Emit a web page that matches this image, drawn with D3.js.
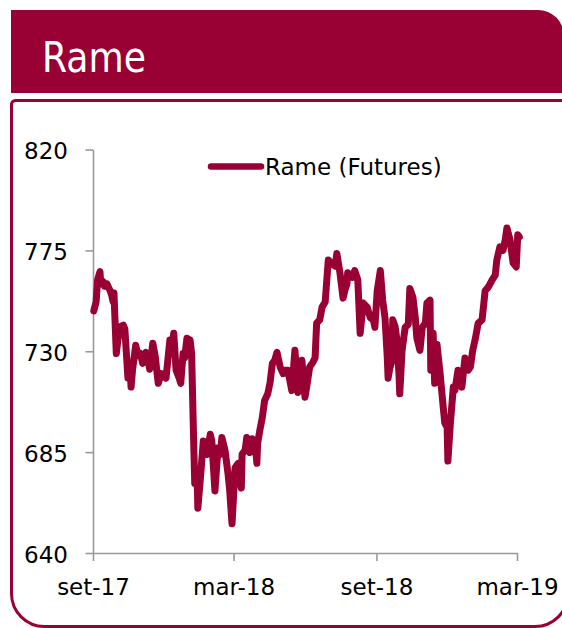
<!DOCTYPE html>
<html>
<head>
<meta charset="utf-8">
<script src="https://cdn.jsdelivr.net/npm/d3@7"></script>
<style>
  body { margin: 0; background: #fff; }
  #chart { width: 562px; height: 628px; }
  .axis path, .axis line { stroke: #999; stroke-width: 1.6; }
  .axis text { font-family: "DejaVu Sans", sans-serif; font-size: 23px; fill: #000; }
</style>
</head>
<body>
<div id="chart"></div>
<script>
// Rame (Futures) - daily-ish closes
var title = "Rame";
var seriesName = "Rame (Futures)";

var dates = [
  "2017-09-02","2017-09-05","2017-09-07","2017-09-10","2017-09-11","2017-09-14","2017-09-16","2017-09-19","2017-09-23","2017-09-25",
  "2017-09-27","2017-09-28","2017-10-01","2017-10-03","2017-10-06","2017-10-10","2017-10-12","2017-10-16","2017-10-19","2017-10-20",
  "2017-10-22","2017-10-26","2017-10-29","2017-11-01","2017-11-04","2017-11-08","2017-11-11","2017-11-13","2017-11-17","2017-11-20",
  "2017-11-24","2017-11-28","2017-12-01","2017-12-04","2017-12-09","2017-12-12","2017-12-14","2017-12-17","2017-12-21","2017-12-23",
  "2017-12-26","2017-12-28","2017-12-31","2018-01-04","2018-01-06","2018-01-08","2018-01-10","2018-01-13","2018-01-14","2018-01-17",
  "2018-01-21","2018-01-23","2018-01-26","2018-01-30","2018-02-01","2018-02-05","2018-02-09","2018-02-12","2018-02-14","2018-02-18",
  "2018-02-22","2018-02-24","2018-02-27","2018-03-03","2018-03-07","2018-03-11","2018-03-12","2018-03-16","2018-03-18","2018-03-22",
  "2018-03-25","2018-03-29","2018-03-31","2018-04-01","2018-04-04","2018-04-07","2018-04-10","2018-04-14","2018-04-17","2018-04-20",
  "2018-04-23","2018-04-26","2018-04-30","2018-05-04","2018-05-06","2018-05-10","2018-05-15","2018-05-19","2018-05-23","2018-05-26",
  "2018-05-28","2018-06-01","2018-06-04","2018-06-07","2018-06-11","2018-06-14","2018-06-16","2018-06-20","2018-06-23","2018-06-27",
  "2018-07-01","2018-07-03","2018-07-06","2018-07-10","2018-07-12","2018-07-16","2018-07-20","2018-07-23","2018-07-25","2018-07-26",
  "2018-07-29","2018-08-01","2018-08-04","2018-08-08","2018-08-11","2018-08-15","2018-08-20","2018-08-24","2018-08-28","2018-08-30",
  "2018-09-02","2018-09-06","2018-09-09","2018-09-12","2018-09-15","2018-09-16","2018-09-18","2018-09-21","2018-09-22","2018-09-25",
  "2018-09-27","2018-09-30","2018-10-01","2018-10-04","2018-10-08","2018-10-12","2018-10-14","2018-10-18","2018-10-21","2018-10-23",
  "2018-10-27","2018-10-30","2018-11-03","2018-11-05","2018-11-09","2018-11-10","2018-11-13","2018-11-15","2018-11-18","2018-11-22",
  "2018-11-26","2018-11-28","2018-12-01","2018-12-02","2018-12-05","2018-12-09","2018-12-11","2018-12-15","2018-12-18","2018-12-20",
  "2018-12-24","2018-12-28","2018-12-31","2019-01-03","2019-01-06","2019-01-10","2019-01-15","2019-01-19","2019-01-23","2019-01-28",
  "2019-02-01","2019-02-03","2019-02-07","2019-02-11","2019-02-14","2019-02-16","2019-02-20","2019-02-24","2019-02-28","2019-03-02",
  "2019-03-04"
];

var values = [
  748,752,762,765.5,760,761,759,760,757,755,
  752,756,729,735,741,741.6,740,718,720,714,
  722,732.7,728,729,724.6,729.5,726,722,733.6,728,
  715.7,720,719,718,735,733,738,721.5,718,715.7,
  729,727,735.8,735,729,699,671,675,660,672,
  690,686,684,693,690,667.7,687,684,691.5,685.7,
  675,668,653,678,680,669,684,686,691.5,684.8,
  691,689,680,689,695,700.4,708,711,716,724.6,
  726,729.5,723,720,721.5,721.5,712.5,730.4,711.6,716,
  726,709.5,716,723,725,727,742.5,744,749.7,752,
  770.7,770,769,768,773.6,765,753.7,758,760,765,
  764,763,766,761.8,738,751.5,749.7,745,744,740.7,
  757,766,752.8,745,727,718,722,726,744,741,
  736,720,711,730.4,740.7,742,758,754,745,736,
  730.4,740.7,742.5,751.5,752.8,721.5,738,715.7,733,720,
  705,698,696,681,697,714,712.5,721.5,718,714,
  727,721.5,723,730.4,735,742.5,744,757,758.6,761.8,
  764,770.7,776.6,775,780,785,779.7,769.4,767.6,782,
  781
];

var xTickDates = ["2017-09-01","2018-03-01","2018-09-01","2019-03-01"];
var xTickLabels = ["set-17","mar-18","set-18","mar-19"];
var yTicks = [640, 685, 730, 775, 820];

var red = "#990033";
var parseDate = d3.timeParse("%Y-%m-%d");

var data = dates.map(function(d, i) {
    return { date: parseDate(d), value: values[i] };
});

var width = 562;
var height = 628;
var svg = d3.select("#chart")
    .append("svg")
    .attr("width", width)
    .attr("height", height);

// Header box
var hRight = 564, hR = 26;
svg.append("path")
    .attr("d", "M11,10 H" + (hRight - hR) + " A" + hR + "," + hR + " 0 0 1 " + hRight + "," + (10 + hR) + " V93 H11 Z")
    .attr("fill", red);

svg.append("text")
    .attr("x", 42)
    .attr("y", 72)
    .attr("textLength", 104)
    .attr("lengthAdjust", "spacingAndGlyphs")
    .style("font-family", "'DejaVu Sans', sans-serif")
    .style("font-size", "43px")
    .attr("fill", "#fff")
    .text(title);

// Panel outline (right side runs off the page)
svg.append("path")
    .attr("d", "M575,100.5 H15.5 A4,4 0 0 0 11.5,104.5 V593.5 A33,33 0 0 0 44.5,626.5 H535 A33,33 0 0 0 568,593.5 V100.5")
    .attr("fill", "none")
    .attr("stroke", red)
    .attr("stroke-width", 3);

// Scales
var x = d3.scaleTime()
    .domain([parseDate("2017-09-01"), parseDate("2019-03-01")])
    .range([93, 517]);

var y = d3.scaleLinear()
    .domain([640, 820])
    .range([553, 149.5]);

// Axes
var yAxis = svg.append("g")
    .attr("class", "axis")
    .attr("transform", "translate(93,0)")
    .call(d3.axisLeft(y).tickValues(yTicks).tickSize(7.5).tickSizeOuter(0).tickPadding(17.5));
yAxis.selectAll("text").attr("dy", "0.4em");

svg.append("g")
    .attr("class", "axis")
    .attr("transform", "translate(0,553)")
    .call(d3.axisBottom(x)
        .tickValues(xTickDates.map(parseDate))
        .tickFormat(function(d, i) { return xTickLabels[i]; })
        .tickSize(8).tickSizeOuter(0).tickPadding(18));

// Series
var line = d3.line()
    .x(function(d) { return x(d.date); })
    .y(function(d) { return y(d.value); });

svg.append("path")
    .datum(data)
    .attr("d", line)
    .attr("fill", "none")
    .attr("stroke", red)
    .attr("stroke-width", 7)
    .attr("stroke-linejoin", "round")
    .attr("stroke-linecap", "round");

// Legend
var legend = svg.append("g").attr("id", "legend");
legend.append("line")
    .attr("x1", 211).attr("x2", 261)
    .attr("y1", 166.5).attr("y2", 166.5)
    .attr("stroke", red)
    .attr("stroke-width", 6.5)
    .attr("stroke-linecap", "round");
legend.append("text")
    .attr("x", 265)
    .attr("y", 174.5)
    .style("font-family", "'DejaVu Sans', sans-serif")
    .style("font-size", "23px")
    .attr("fill", "#000")
    .text(seriesName);
</script>
</body>
</html>
